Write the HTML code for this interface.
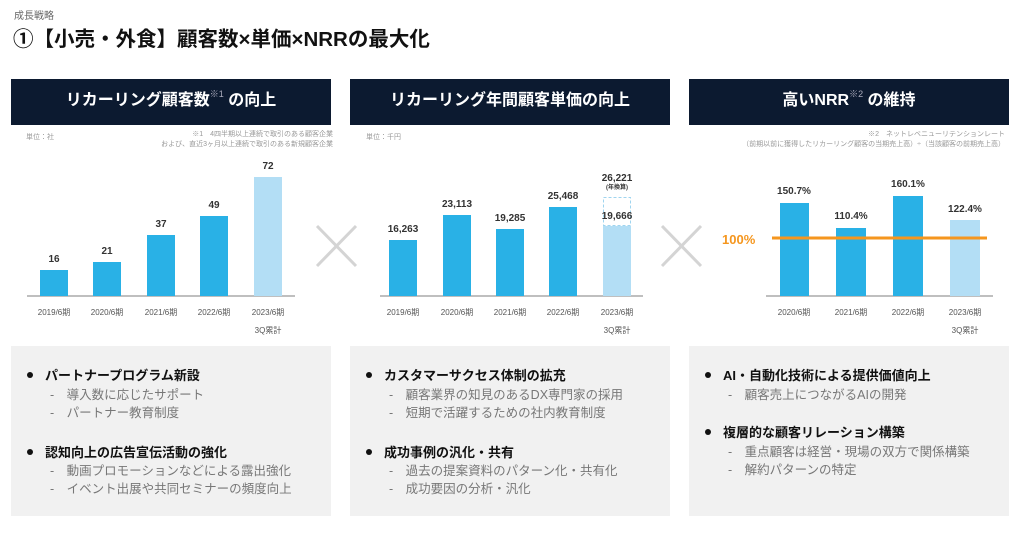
<!DOCTYPE html>
<html><head><meta charset="utf-8"><style>
*{margin:0;padding:0;box-sizing:border-box}
body{width:1024px;height:534px;background:#fff;position:relative;overflow:hidden;font-family:"Liberation Sans","Noto Sans CJK JP",sans-serif}
.a{position:absolute;white-space:nowrap}
.hd{position:absolute;top:79px;width:320px;height:46px;background:#0c1a30;color:#fff;font-weight:bold;font-size:16px;text-align:center;line-height:44px}
.hd sup{font-size:9px;color:#aab;vertical-align:top;line-height:30px;font-weight:normal}
.box{position:absolute;top:346px;width:320px;height:170px;background:#f1f1f1}
.b{position:absolute;font-size:13px;font-weight:bold;color:#111;white-space:nowrap}
.s{position:absolute;font-size:12.5px;color:#777;white-space:nowrap}
.dot{display:inline-block;width:6px;height:6px;border-radius:3px;background:#111;position:absolute;left:-18px;top:7px}
</style></head><body>
<div class="a" style="left:14px;top:7px;font-size:10px;color:#666">成長戦略</div>
<div class="a" style="left:13px;top:22px;font-size:20.5px;font-weight:bold;color:#111">①【小売・外食】顧客数×単価×NRRの最大化</div>

<div class="hd" style="left:11px">リカーリング顧客数<sup>※1</sup> の向上</div>
<div class="hd" style="left:350px">リカーリング年間顧客単価の向上</div>
<div class="hd" style="left:689px">高いNRR<sup>※2</sup> の維持</div>

<svg class="a" style="left:0;top:0" width="1024" height="534" font-family="Liberation Sans,Noto Sans CJK JP,sans-serif">
<g font-size="7" fill="#999">
<text x="26" y="139">単位：社</text>
<text x="333" y="136" text-anchor="end">※1　4四半期以上連続で取引のある顧客企業</text>
<text x="333" y="146" text-anchor="end">および、直近3ヶ月以上連続で取引のある新規顧客企業</text>
<text x="366" y="139">単位：千円</text>
<text x="1005" y="136" text-anchor="end">※2　ネットレベニューリテンションレート</text>
<text x="1005" y="146" text-anchor="end">（前期以前に獲得したリカーリング顧客の当期売上高）÷（当該顧客の前期売上高）</text>
</g>
<g stroke="#999" stroke-width="1.2"><line x1="27" y1="296" x2="295" y2="296"/><line x1="380" y1="296" x2="643" y2="296"/><line x1="766" y1="296" x2="993" y2="296"/></g>
<g fill="#29b1e6">
<rect x="40" y="270" width="28" height="26"/><rect x="93" y="262" width="28" height="34"/><rect x="147" y="235" width="28" height="61"/><rect x="200" y="216" width="28" height="80"/>
<rect x="389" y="240" width="28" height="56"/><rect x="443" y="215" width="28" height="81"/><rect x="496" y="229" width="28" height="67"/><rect x="549" y="207" width="28" height="89"/>
<rect x="780" y="203" width="29" height="93"/><rect x="836" y="228" width="30" height="68"/><rect x="893" y="196" width="30" height="100"/>
</g>
<g fill="#b3def5"><rect x="254" y="177" width="28" height="119"/><rect x="603" y="226" width="28" height="70"/><rect x="950" y="220" width="30" height="76"/></g>
<rect x="603.5" y="197.5" width="27" height="28" fill="none" stroke="#9fd4ef" stroke-dasharray="3,2"/>
<line x1="772" y1="238" x2="987" y2="238" stroke="#f5961e" stroke-width="3"/>
<text x="722" y="244" font-size="13" font-weight="bold" fill="#f5961e">100%</text>
<g font-size="10" font-weight="bold" fill="#333" text-anchor="middle">
<text x="54" y="262">16</text><text x="107" y="254">21</text><text x="161" y="227">37</text><text x="214" y="208">49</text><text x="268" y="169">72</text>
<text x="403" y="232">16,263</text><text x="457" y="207">23,113</text><text x="510" y="221">19,285</text><text x="563" y="199">25,468</text><text x="617" y="181">26,221</text><text x="617" y="219">19,666</text>
<text x="794" y="194">150.7%</text><text x="851" y="219">110.4%</text><text x="908" y="187">160.1%</text><text x="965" y="212">122.4%</text>
</g>
<text x="617" y="189" font-size="6" font-weight="bold" fill="#333" text-anchor="middle">(年換算)</text>
<g font-size="8" fill="#555" text-anchor="middle">
<text x="54" y="315">2019/6期</text><text x="107" y="315">2020/6期</text><text x="161" y="315">2021/6期</text><text x="214" y="315">2022/6期</text><text x="268" y="315">2023/6期</text><text x="268" y="333">3Q累計</text>
<text x="403" y="315">2019/6期</text><text x="457" y="315">2020/6期</text><text x="510" y="315">2021/6期</text><text x="563" y="315">2022/6期</text><text x="617" y="315">2023/6期</text><text x="617" y="333">3Q累計</text>
<text x="794" y="315">2020/6期</text><text x="851" y="315">2021/6期</text><text x="908" y="315">2022/6期</text><text x="965" y="315">2023/6期</text><text x="965" y="333">3Q累計</text>
</g>
<g stroke="#d4d4d4" stroke-width="3"><line x1="317" y1="226" x2="356" y2="266"/><line x1="356" y1="226" x2="317" y2="266"/><line x1="662" y1="226" x2="701" y2="266"/><line x1="701" y1="226" x2="662" y2="266"/></g>
</svg>

<div class="box" style="left:11px"></div>
<div class="box" style="left:350px"></div>
<div class="box" style="left:689px"></div>

<div class="b" style="left:45px;top:365px"><span class="dot"></span>パートナープログラム新設</div>
<div class="s" style="left:50px;top:384px">-　導入数に応じたサポート</div>
<div class="s" style="left:50px;top:402px">-　パートナー教育制度</div>
<div class="b" style="left:45px;top:442px"><span class="dot"></span>認知向上の広告宣伝活動の強化</div>
<div class="s" style="left:50px;top:460px">-　動画プロモーションなどによる露出強化</div>
<div class="s" style="left:50px;top:478px">-　イベント出展や共同セミナーの頻度向上</div>

<div class="b" style="left:384px;top:365px"><span class="dot"></span>カスタマーサクセス体制の拡充</div>
<div class="s" style="left:389px;top:384px">-　顧客業界の知見のあるDX専門家の採用</div>
<div class="s" style="left:389px;top:402px">-　短期で活躍するための社内教育制度</div>
<div class="b" style="left:384px;top:442px"><span class="dot"></span>成功事例の汎化・共有</div>
<div class="s" style="left:389px;top:460px">-　過去の提案資料のパターン化・共有化</div>
<div class="s" style="left:389px;top:478px">-　成功要因の分析・汎化</div>

<div class="b" style="left:723px;top:365px"><span class="dot"></span>AI・自動化技術による提供価値向上</div>
<div class="s" style="left:728px;top:384px">-　顧客売上につながるAIの開発</div>
<div class="b" style="left:723px;top:422px"><span class="dot"></span>複層的な顧客リレーション構築</div>
<div class="s" style="left:728px;top:441px">-　重点顧客は経営・現場の双方で関係構築</div>
<div class="s" style="left:728px;top:459px">-　解約パターンの特定</div>
</body></html>
